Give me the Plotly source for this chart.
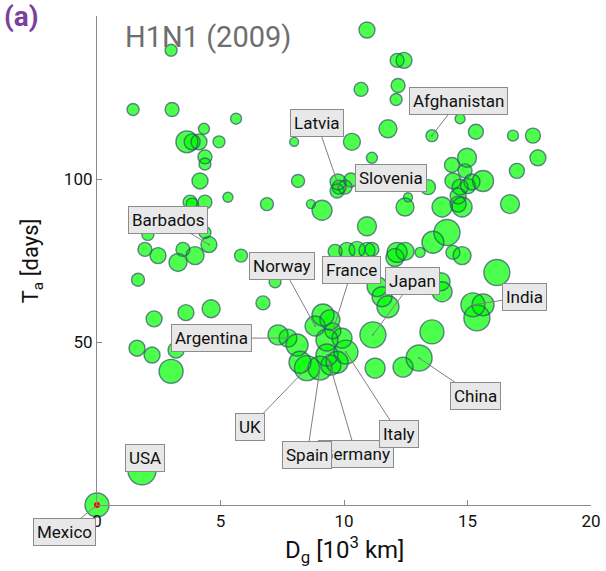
import plotly.graph_objects as go

# Geodesic distance from the outbreak origin [10^3 km]
dist_km = [
    3.00, 10.93, 12.15, 12.43, 12.19, 12.11, 10.69, 11.78, 7.98, 10.32,
    11.13, 8.14, 9.76, 9.80, 10.04, 10.28, 9.72, 6.88, 8.66, 9.11,
    12.59, 12.47, 10.93, 9.64, 10.12, 10.53, 10.93, 11.13, 12.15, 12.47,
    12.06, 13.08, 1.46, 3.04, 5.63, 4.33, 3.64, 3.85, 4.13, 4.94,
    4.37, 4.37, 4.17, 5.30, 3.77, 3.85, 4.37, 4.37, 4.53, 2.06,
    1.94, 2.47, 3.48, 3.97, 3.28, 5.83, 1.66, 2.31, 3.60, 4.62,
    6.72, 1.62, 2.23, 3.20, 3.00, 1.82, 0.00, 7.21, 8.83, 9.15,
    9.43, 7.33, 7.73, 8.10, 8.22, 8.50, 9.03, 9.31, 9.55, 9.92,
    10.08, 9.72, 9.31, 9.47, 11.17, 11.26, 11.34, 11.54, 11.78, 12.39,
    13.04, 13.56, 13.97, 16.72, 13.60, 14.17, 14.41, 14.78, 16.19, 13.93,
    13.97, 15.22, 15.63, 15.38, 13.56, 14.70, 15.34, 16.84, 17.65, 17.85,
    17.00, 14.98, 14.37, 14.90, 15.63, 15.18, 14.41, 14.70, 14.62, 15.02,
    14.62, 14.78, 13.40,
]

# Arrival time of the epidemic [days]
arrival_days = [
    139.5, 145.7, 136.4, 136.4, 128.7, 124.4, 127.5, 115.4, 111.4, 111.4,
    106.5, 99.4, 99.1, 97.5, 97.5, 99.7, 96.3, 92.3, 92.3, 90.4,
    94.4, 91.4, 85.5, 77.8, 78.1, 78.4, 78.1, 78.4, 77.5, 77.8,
    75.9, 77.5, 121.3, 121.3, 118.5, 115.4, 111.4, 111.4, 111.4, 111.4,
    106.8, 104.6, 99.4, 94.4, 92.9, 92.3, 92.9, 83.6, 79.9, 83.0,
    78.4, 76.5, 78.4, 76.5, 74.4, 76.5, 69.1, 57.1, 59.0, 60.2,
    62.0, 48.1, 46.0, 47.5, 41.0, 10.5, 0.0, 68.5, 54.9, 58.3,
    56.8, 52.2, 51.2, 49.1, 43.8, 42.0, 42.0, 50.6, 53.4, 51.2,
    46.9, 43.8, 46.0, 42.9, 52.2, 42.0, 67.0, 63.9, 60.8, 42.3,
    45.1, 53.1, 91.4, 92.3, 80.6, 83.6, 77.5, 76.5, 71.3, 68.5,
    65.4, 61.4, 61.4, 57.4, 113.3, 118.5, 114.5, 113.3, 113.3, 106.5,
    102.5, 106.5, 104.3, 102.5, 99.4, 99.1, 99.4, 97.5, 94.8, 97.8,
    92.3, 91.4, 97.5,
]

# Relative bubble weight of each country
weight = [
    12, 16, 14, 16, 14, 12, 14, 18, 9, 17,
    11, 13, 16, 14, 14, 14, 14, 13, 9, 20,
    9, 18, 19, 14, 16, 16, 16, 14, 20, 18,
    18, 10, 12, 14, 11, 11, 22, 16, 16, 12,
    14, 12, 16, 10, 14, 12, 14, 12, 16, 12,
    14, 16, 14, 18, 18, 13, 13, 16, 16, 18,
    14, 16, 16, 16, 24, 28, 24, 12, 20, 22,
    20, 20, 18, 22, 22, 25, 24, 22, 16, 20,
    24, 22, 22, 20, 26, 20, 20, 20, 22, 20,
    26, 24, 20, 19, 22, 26, 14, 18, 26, 18,
    20, 24, 22, 26, 12, 10, 15, 11, 15, 16,
    15, 19, 15, 14, 21, 16, 16, 16, 16, 15,
    16, 20, 15,
]

# Country names of the highlighted points
labelled = {
    "Mexico": 66, "USA": 65, "Argentina": 72, "Barbados": 48,
    "Latvia": 13, "Slovenia": 14, "Afghanistan": 104, "Norway": 68,
    "France": 78, "Japan": 84, "India": 101, "China": 90,
    "Germany": 82, "UK": 75, "Spain": 76, "Italy": 80,
}

# Label box offsets from their point, in screen pixels
label_offsets = {
    "Mexico": (-33, 27), "USA": (3, -13), "Argentina": (-76, 0),
    "Barbados": (-41, -25), "Latvia": (-22, -64), "Slovenia": (46, -9),
    "Afghanistan": (27, -35), "Norway": (-33, -60), "France": (19, -61),
    "Japan": (40, -54), "India": (52, -8), "China": (56, 38),
    "Germany": (29, 99), "UK": (-57, 59), "Spain": (-13, 87),
    "Italy": (53, 82),
}

FONT = "Roboto, DejaVu Sans, sans-serif"
sizes = [w * 1.0 for w in weight]

fig = go.Figure()
# filled discs first, outlines on top so every rim stays visible
fig.add_trace(go.Scatter(
    x=dist_km, y=arrival_days, mode="markers", cliponaxis=False,
    marker=dict(size=sizes, color="#00ff00", line=dict(width=0)),
    hoverinfo="skip", showlegend=False,
))
fig.add_trace(go.Scatter(
    x=dist_km, y=arrival_days, mode="markers", cliponaxis=False,
    marker=dict(size=sizes, color="rgba(0,0,0,0)",
                line=dict(width=1.4, color="#34536b")),
    showlegend=False,
))
# origin marker
mx = labelled["Mexico"]
fig.add_trace(go.Scatter(
    x=[dist_km[mx]], y=[arrival_days[mx]], mode="markers", cliponaxis=False,
    marker=dict(size=6, color="#ff0000"), showlegend=False,
))

annotations = []
for name, idx in labelled.items():
    ax, ay = label_offsets[name]
    annotations.append(dict(
        x=dist_km[idx], y=arrival_days[idx], xref="x", yref="y",
        text=name, showarrow=True, ax=ax, ay=ay,
        arrowhead=6, arrowsize=0.5, arrowwidth=1, arrowcolor="#808080",
        standoff=0, bgcolor="#e8e8e8", bordercolor="#8c8c8c",
        borderwidth=1, borderpad=3,
        font=dict(family=FONT, size=17, color="#111111"),
    ))

annotations += [
    dict(text="H1N1 (2009)", xref="paper", yref="paper", x=0.052, y=0.957,
         xanchor="left", yanchor="middle", showarrow=False,
         font=dict(family=FONT, size=29, color="#6e6e6e")),
    dict(text="<b>(a)</b>", xref="paper", yref="paper", x=-0.192, y=0.998,
         xanchor="left", yanchor="middle", showarrow=False,
         font=dict(family=FONT, size=28, color="#7b3f9e")),
    dict(text="T<sub>a</sub> [days]", xref="paper", yref="paper",
         x=-0.13, y=0.5, textangle=-90, xanchor="center", yanchor="middle",
         showarrow=False, font=dict(family=FONT, size=22, color="#111111")),
    dict(text="D<sub>g</sub> [10<sup>3</sup> km]", xref="paper", yref="paper",
         x=0.50, y=-0.092, xanchor="center", yanchor="middle",
         showarrow=False, font=dict(family=FONT, size=24, color="#111111")),
]

axis_common = dict(
    showline=True, linecolor="#8a8a8a", linewidth=1.2,
    ticks="inside", ticklen=5, tickcolor="#8a8a8a",
    showgrid=False, zeroline=False, automargin=False,
    tickfont=dict(family=FONT, size=17, color="#111111"),
)

fig.update_layout(
    width=606, height=571,
    margin=dict(l=97, r=15, t=16, b=66),
    paper_bgcolor="white", plot_bgcolor="white",
    xaxis=dict(range=[0, 20], tickvals=[0, 5, 10, 15, 20], **axis_common),
    yaxis=dict(range=[0, 150], tickvals=[50, 100, 150],
               ticktext=["50", "100", ""], **axis_common),
    annotations=annotations,
    showlegend=False,
)

fig.write_html("out.html")
